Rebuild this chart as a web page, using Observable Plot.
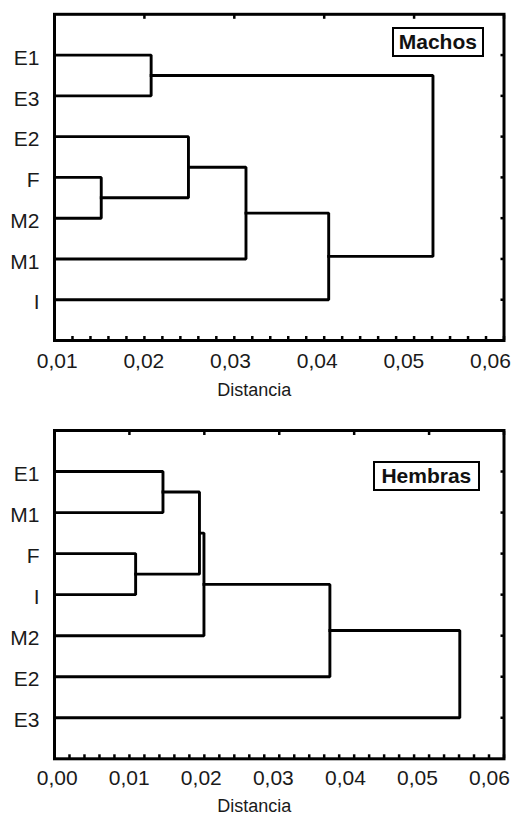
<!DOCTYPE html>
<html><head><meta charset="utf-8">
<script src="https://cdn.jsdelivr.net/npm/d3@7"></script>
<script src="https://cdn.jsdelivr.net/npm/@observablehq/plot@0.6"></script>
<style>
body{margin:0;background:#fff;font-family:"Liberation Sans",Arial,sans-serif;}
#wrap{position:relative;width:516px;height:815px;overflow:hidden;}
.panel{position:relative;width:516px;}
.panel svg{display:block;}
.overlay{position:absolute;left:0;top:0;pointer-events:none;}
.overlay svg{background:transparent !important;}
.key{position:absolute;border:2.7px solid #000;box-sizing:border-box;font-weight:bold;font-size:21px;display:flex;align-items:center;justify-content:center;color:#111;font-family:"Liberation Sans",Arial,sans-serif;}
</style></head><body><div id="wrap"></div>
<script>
// ---- Machos (top) ----
const machosLeaves = ["E1", "E3", "E2", "F", "M2", "M1", "I"];
// merges: child A, child B (leaf names or "#k" = k-th merge), distance
const machosMergeA = ["E1", "F", "E2", "#2", "#3", "#0"];
const machosMergeB = ["E3", "M2", "#1", "M1", "I", "#4"];
const machosDist = [0.02075, 0.0152, 0.0249, 0.0313, 0.0405, 0.0521];
const machosTicks = [0.01, 0.02, 0.03, 0.04, 0.05, 0.06];
const machosTickLabels = ["0,01", "0,02", "0,03", "0,04", "0,05", "0,06"];

// ---- Hembras (bottom) ----
const hembrasLeaves = ["E1", "M1", "F", "I", "M2", "E2", "E3"];
const hembrasMergeA = ["E1", "F", "#0", "#2", "#3", "#4"];
const hembrasMergeB = ["M1", "I", "#1", "M2", "E2", "E3"];
const hembrasDist = [0.01448, 0.01083, 0.01935, 0.01995, 0.03676, 0.0541];
const hembrasTicks = [0.00, 0.01, 0.02, 0.03, 0.04, 0.05, 0.06];
const hembrasTickLabels = ["0,00", "0,01", "0,02", "0,03", "0,04", "0,05", "0,06"];

const axisTitle = "Distancia";
const FONT = "'Liberation Sans', Arial, sans-serif";

function dendroPaths(leaves, mA, mB, mD, xmin) {
  const nodes = new Map(leaves.map((n, i) => [n, {x: xmin, y: i}]));
  const rows = [];
  mA.forEach((a, k) => {
    const A = nodes.get(a), B = nodes.get(mB[k]), d = mD[k];
    rows.push({id: k, x: A.x, y: A.y}, {id: k, x: d, y: A.y}, {id: k, x: d, y: B.y}, {id: k, x: B.x, y: B.y});
    nodes.set("#" + k, {x: d, y: (A.y + B.y) / 2});
  });
  return rows;
}

function panel(cfg) {
  const {leaves, mA, mB, mD, ticks, tickLabels, height, marginTop, marginBottom, tickPad, titleDy, labelLeft, labelRight, key, keyBox} = cfg;
  const xmin = ticks[0], xmax = ticks[ticks.length - 1];
  const rows = dendroPaths(leaves, mA, mB, mD, xmin);
  const minor = d3.range(Math.round(xmin * 500), Math.round(xmax * 500) + 1).map(i => i / 500);
  const idx = d3.range(leaves.length);
  const plot = Plot.plot({
    width: 516, height, marginLeft: 54, marginRight: 12.5, marginTop, marginBottom,
    style: {fontFamily: FONT, color: "#1a1a1a", background: "white", overflow: "visible"},
    x: {domain: [xmin, xmax], axis: null, label: null},
    y: {domain: [leaves.length, -1], axis: null, label: null},
    marks: [
      Plot.line(rows, {x: "x", y: "y", z: "id", stroke: "#000", strokeWidth: 2.9, strokeLinejoin: "miter", strokeLinecap: "square"}),
      Plot.axisX(minor, {anchor: "bottom", tickSize: -4, fill: "none", stroke: "#000", strokeWidth: 2.5, label: null}),
      Plot.axisX(ticks, {anchor: "top", tickSize: -4, fill: "none", stroke: "#000", strokeWidth: 2.5, label: null}),
      Plot.axisY(idx, {anchor: "right", tickSize: -4, fill: "none", stroke: "#000", strokeWidth: 2.5, label: null}),
      Plot.axisY(idx, {anchor: "left", tickSize: 0, tickPadding: 15, fontSize: 21, dy: 3, tickFormat: i => leaves[i], label: null}),
      Plot.text([axisTitle], {frameAnchor: "bottom", lineAnchor: "top", dy: titleDy, dx: -25, fontSize: 18}),
      Plot.frame({stroke: "#000", strokeWidth: 3})
    ]
  });
  // tick labels: in the reference they sit on a slightly narrower span than the ticks
  const labels = Plot.plot({
    width: 516, height, marginLeft: labelLeft, marginRight: labelRight, marginTop, marginBottom,
    style: {fontFamily: FONT, color: "#1a1a1a", background: "transparent", overflow: "visible"},
    x: {domain: [xmin, xmax], axis: null, label: null},
    y: {domain: [leaves.length, -1], axis: null, label: null},
    marks: [
      Plot.axisX(ticks, {anchor: "bottom", tickSize: 0, tickPadding: tickPad, fontSize: 21, tickFormat: d => tickLabels[ticks.indexOf(d)], label: null})
    ]
  });
  const div = document.createElement("div");
  div.className = "panel";
  div.style.height = height + "px";
  div.appendChild(plot);
  const ov = document.createElement("div");
  ov.className = "overlay";
  ov.appendChild(labels);
  div.appendChild(ov);
  const k = document.createElement("div");
  k.className = "key";
  k.textContent = key;
  Object.assign(k.style, {left: keyBox[0] + "px", top: keyBox[1] + "px", width: keyBox[2] + "px", height: keyBox[3] + "px"});
  div.appendChild(k);
  return div;
}

const wrap = document.getElementById("wrap");
wrap.appendChild(panel({
  leaves: machosLeaves, mA: machosMergeA, mB: machosMergeB, mD: machosDist,
  ticks: machosTicks, tickLabels: machosTickLabels,
  height: 400, marginTop: 13.8, marginBottom: 60, tickPad: 12.5, titleDy: 42.5,
  labelLeft: 56.7, labelRight: 26,
  key: "Machos", keyBox: [391.7, 27.3, 92.3, 30]
}));
wrap.appendChild(panel({
  leaves: hembrasLeaves, mA: hembrasMergeA, mB: hembrasMergeB, mD: hembrasDist,
  ticks: hembrasTicks, tickLabels: hembrasTickLabels,
  height: 415, marginTop: 30, marginBottom: 56.7, tickPad: 11.5, titleDy: 40,
  labelLeft: 56.7, labelRight: 27,
  key: "Hembras", keyBox: [372.7, 60.7, 107.3, 30.3]
}));
</script>
</body></html>
